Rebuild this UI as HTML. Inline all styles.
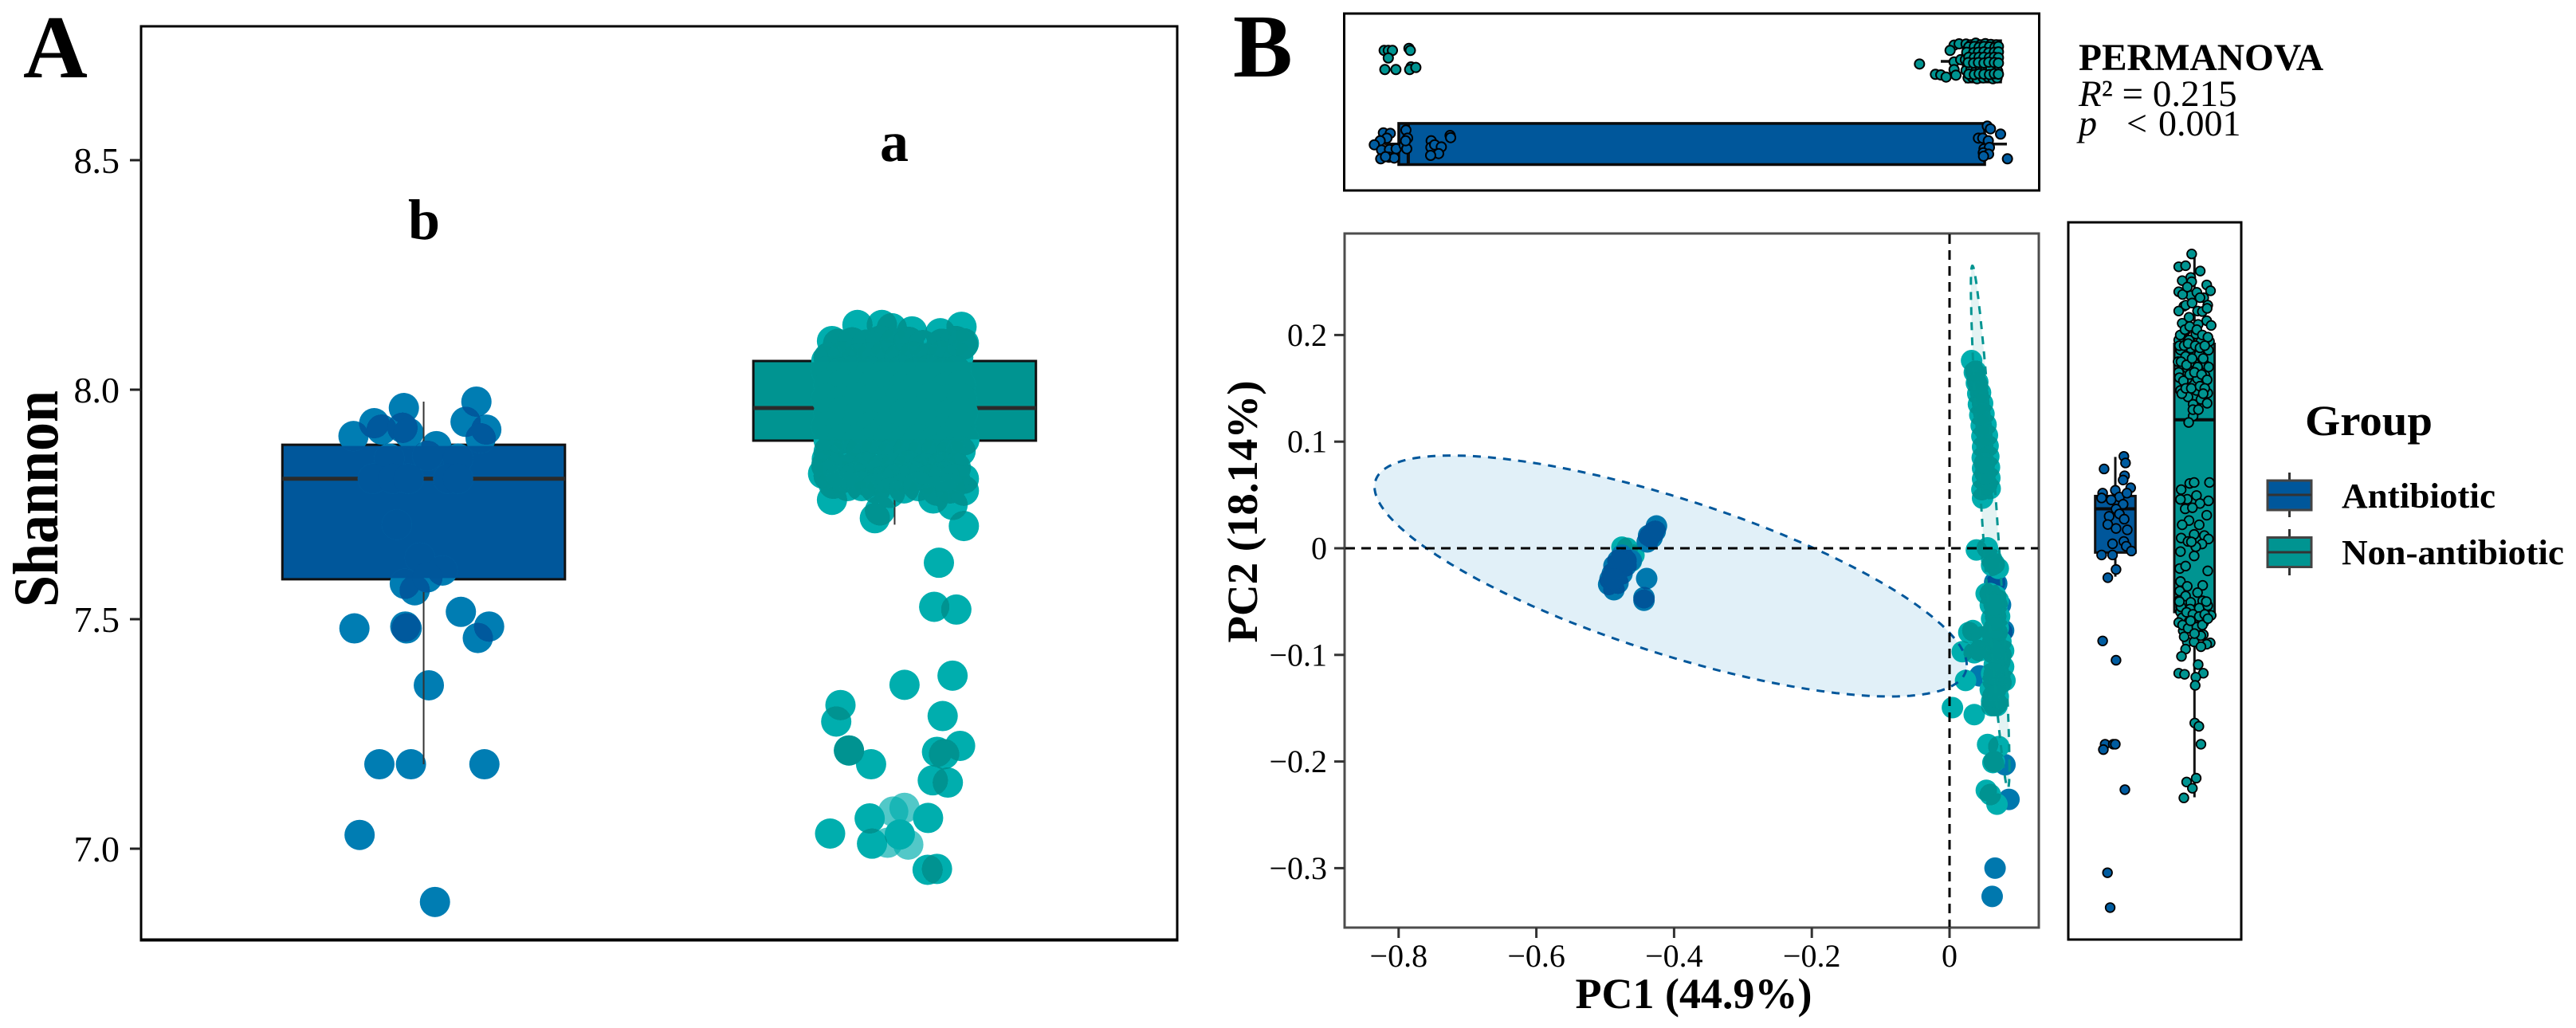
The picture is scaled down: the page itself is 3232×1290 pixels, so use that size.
<!DOCTYPE html>
<html lang="en">
<head>
<meta charset="utf-8">
<title>Shannon diversity and PCoA</title>
<style>
html,body{margin:0;padding:0;background:#fff;width:3232px;height:1290px;overflow:hidden}
svg{display:block;font-family:"Liberation Serif",serif}
text{fill:#000}
</style>
</head>
<body>
<svg id="fig" xmlns="http://www.w3.org/2000/svg" width="3232" height="1290" viewBox="0 0 3232 1290">
<defs>
<filter id="overlap" filterUnits="userSpaceOnUse" x="0" y="0" width="3232" height="1290" color-interpolation-filters="sRGB">
<feComponentTransfer><feFuncA type="linear" slope="30" intercept="-17"/></feComponentTransfer>
</filter>
<clipPath id="clipBoxA1"><rect id="clipRectA1" x="0" y="0" width="0" height="0"/></clipPath>
<clipPath id="clipBoxA2"><rect id="clipRectA2" x="0" y="0" width="0" height="0"/></clipPath>
</defs>
<rect x="0" y="0" width="3232" height="1290" fill="#fff"/>

<text x="29" y="97" font-size="112" font-weight="bold">A</text>
<text x="1547" y="96" font-size="112" font-weight="bold">B</text>

<rect x="177" y="33" width="1300" height="1146" fill="#fff" stroke="#000" stroke-width="3"/>
<line x1="175.5" x2="1478.5" y1="1179.5" y2="1179.5" stroke="#000" stroke-width="4"/>
<g id="panelA"></g>
<text transform="translate(72,626) rotate(-90)" font-size="80" font-weight="bold" text-anchor="middle" textLength="272" lengthAdjust="spacingAndGlyphs">Shannon</text>
<text x="532" y="300" font-size="72" font-weight="bold" text-anchor="middle">b</text>
<text x="1122" y="202" font-size="72" font-weight="bold" text-anchor="middle">a</text>

<rect x="1686.5" y="17" width="872" height="222" fill="#fff" stroke="#000" stroke-width="3"/>
<g id="panelTop"></g>

<rect x="1687" y="293" width="871" height="871" fill="#fff" stroke="#4d4d4d" stroke-width="3"/>
<g id="panelB"></g>
<text x="2125" y="1265" font-size="54" font-weight="bold" text-anchor="middle">PC1 (44.9%)</text>
<text transform="translate(1577,642) rotate(-90)" font-size="54" font-weight="bold" text-anchor="middle" textLength="329" lengthAdjust="spacingAndGlyphs">PC2 (18.14%)</text>

<rect x="2595" y="279" width="217" height="900" fill="#fff" stroke="#000" stroke-width="3"/>
<g id="panelRight"></g>

<text x="2608" y="88" font-size="47.4" font-weight="bold">PERMANOVA</text>
<text x="2608" y="133" font-size="47"><tspan font-style="italic">R</tspan>² = 0.215</text>
<text y="170" font-size="46"><tspan x="2608" font-style="italic">p</tspan><tspan x="2668">&lt;</tspan><tspan x="2708">0.001</tspan></text>

<g>
<text x="2892" y="546" font-size="54" font-weight="bold" textLength="160" lengthAdjust="spacingAndGlyphs">Group</text>
<line x1="2872.5" x2="2872.5" y1="593" y2="649" stroke="#333" stroke-width="3"/>
<rect x="2845" y="603" width="55" height="37" fill="#00579B" stroke="#444" stroke-width="3"/>
<line x1="2845" x2="2900" y1="621" y2="621" stroke="#333" stroke-width="3"/>
<text x="2938" y="637" font-size="44" font-weight="bold" textLength="193" lengthAdjust="spacingAndGlyphs">Antibiotic</text>
<line x1="2872.5" x2="2872.5" y1="664" y2="722" stroke="#333" stroke-width="3"/>
<rect x="2845" y="674.5" width="55" height="37" fill="#009491" stroke="#444" stroke-width="3"/>
<line x1="2845" x2="2900" y1="693" y2="693" stroke="#333" stroke-width="3"/>
<text x="2938" y="708" font-size="44" font-weight="bold" textLength="279" lengthAdjust="spacingAndGlyphs">Non-antibiotic</text>
</g>
</svg>

<script>
// ---------- Panel A data ----------
const shannonTicks = [7.0, 7.5, 8.0, 8.5];
const shannonTickLabels = ["7.0", "7.5", "8.0", "8.5"];
// box stats: [low whisker, q1, median, q3, high whisker]
const shannonBoxAntibiotic = [7.184, 7.587, 7.806, 7.88, 7.974];
const shannonBoxNonAntibiotic = [7.706, 7.889, 7.96, 8.0625, 8.0625];
const shannonJitterAntibiotic = [
 .112,-.042,-.105,.089,.133,-.149,-.089,-.045,-.032,.027,.121,.008,-.073,.073,
 -.108,-.065,-.032,.052,.073,-.057,-.008,.04,-.04,-.019,.008,.079,-.147,-.036,-.039,.139,.115,.011,-.094,-.027,.129,-.136,.024];
const shannonValuesAntibiotic = [
 7.974,7.96,7.927,7.93,7.913,7.899,7.913,7.917,7.906,7.877,7.894,7.856,7.85,7.85,
 7.806,7.806,7.806,7.806,7.806,7.706,7.634,7.606,7.577,7.563,7.591,7.516,7.48,7.48,7.484,7.484,7.459,7.356,7.184,7.184,7.184,7.03,6.884];
const shannonJitterNonAntibiotic = [
 .147,.094,.084,.131,.123,.021,-.115,-.124,.102,.139,.09,.105,-.097,-.097,-.05,.081,.113,-.053,.071,-.137,-.048,.07,.09,.011,
 -.133,-.042,-.031,.082,.123,.147,.147,-.152,-.112,-.055,-.015,.026,.066,.107,-.144,
 -.079,-.027,.142,.097,.037,-.006,-.133,.147,-.145,
 -.12,-.09,-.06,-.03,0,.03,.06,.1,.13,.145,
 -.14,-.11,-.08,-.05,-.02,.01,.04,.07,.1,.135,
 -.145,-.115,-.085,-.05,-.02,.015,.045,.075,.105,.13,
 -.14,-.11,-.08,-.045,-.015,.02,.05,.08,.11,.14,
 -.145,-.112,-.08,-.05,-.018,.012,.045,.078,.11,.142,
 -.14,-.11,-.075,-.045,-.015,.02,.05,.08,.115,.145,
 -.145,-.115,-.08,-.05,-.02,.015,.045,.075,.11,.14,
 -.14,-.11,-.08,-.045,-.012,.02,.05,.085,.115,.148,
 -.14,-.105,-.07,-.04,-.005,.03,.06,.09,.12,.14,
 -.145,-.12,-.09,-.06,-.03,0,.03,.065,.1,.13,
 -.14,-.115,-.085,-.03,.005,.04,.075,.105,.128,
 -.13,-.1,-.07,-.04,-.01,.02,.05,.09,.118];
const shannonValuesNonAntibiotic = [
 7.703,7.623,7.527,7.521,7.377,7.357,7.313,7.277,7.289,7.224,7.211,7.206,7.214,7.214,7.184,7.149,7.144,7.066,7.067,7.033,7.011,6.954,6.956,7.031,
 7.76,7.72,7.737,7.763,7.749,7.78,7.806,7.817,7.813,7.799,7.806,7.806,7.82,7.813,7.849,
 8.141,8.141,8.137,8.123,8.127,8.134,8.106,8.101,8.063,
 8.10,8.103,8.098,8.107,8.101,8.104,8.097,8.1,8.106,8.098,
 8.07,8.073,8.067,8.071,8.075,8.068,8.072,8.069,8.074,8.07,
 8.04,8.037,8.043,8.04,8.036,8.042,8.039,8.044,8.038,8.041,
 8.01,8.013,8.007,8.011,8.014,8.008,8.012,8.009,8.006,8.01,
 7.98,7.977,7.983,7.98,7.976,7.982,7.979,7.984,7.978,7.981,
 7.95,7.953,7.947,7.951,7.954,7.948,7.952,7.949,7.946,7.95,
 7.92,7.917,7.923,7.92,7.916,7.922,7.919,7.924,7.918,7.921,
 7.89,7.893,7.887,7.891,7.894,7.888,7.892,7.889,7.886,7.89,
 7.865,7.862,7.868,7.866,7.861,7.867,7.864,7.869,7.863,7.866,
 7.835,7.828,7.83,7.832,7.826,7.83,7.834,7.828,7.832,7.83,
 7.812,7.806,7.81,7.80,7.807,7.811,7.804,7.81,7.806,
 7.795,7.79,7.79,7.785,7.775,7.785,7.79,7.78,7.785];
const shannonFaintJitter = [.021,-.003,.029,-.015];
const shannonFaintValues = [7.089,7.081,7.009,7.013];

// ---------- Panel B scatter data ----------
const pc1Ticks = [-0.8,-0.6,-0.4,-0.2,0];
const pc1TickLabels = ["\u22120.8","\u22120.6","\u22120.4","\u22120.2","0"];
const pc2Ticks = [0.2,0.1,0,-0.1,-0.2,-0.3];
const pc2TickLabels = ["0.2","0.1","0","\u22120.1","\u22120.2","\u22120.3"];
// ellipse: [centre x, centre y, x radius, y radius, correlation]
const ellipseAntibiotic = [-0.405,-0.026,0.43,0.113,-0.74];
const ellipseNonAntibiotic = [0.059,0.02,0.028,0.245,-0.92];
// antibiotic samples in the left-hand cluster
const pc1AntibioticLeft = [
 -.4256,-.4274,-.435,-.439,-.43,-.432,-.437,-.4398,-.4437,-.4437,
 -.4756,-.4737,-.4699,-.4756,-.4815,-.4897,-.4815,-.493,-.495,-.4873,-.4815,-.4756,-.4699,-.4756,-.4815,-.4873,-.487,-.4623];
const pc2AntibioticLeft = [
 .0209,.0159,.0112,.006,.015,.010,.012,-.0284,-.0463,-.0488,
 -.0065,-.0114,-.0164,-.0164,-.019,-.0239,-.0214,-.0289,-.0339,-.0389,-.0327,-.0114,-.0114,-.0239,-.0114,-.0164,-.0289,-.0114];
// antibiotic samples along the right-hand column
const pc1AntibioticRight = [.0655,.0685,.074,.0785,.076,.0437,.0805,.0863,.0661,.0619];
const pc2AntibioticRight = [-.032,-.033,-.053,-.077,-.079,-.1197,-.203,-.2355,-.3,-.3265];
const pc1NonAntibiotic = [
 -.4757,-.4583,-.468,-.462,
 .032,.036,.038,.039,.041,.041,.045,.042,.048,.044,.050,.046,.053,.047,.055,.048,.056,.0475,.057,.048,.058,.048,.0585,.047,.059,.048,.054,.052,.051,
 .039,.055,.0532,.0339,.028,.0185,.0359,.0233,.0042,.0359,
 .0611,.0611,.065,.0708,.0592,.0669,.0689,.0592,.0669,.0727,.0611,.0689,.063,.0746,.0689,.0785,.063,.0727,.0785,.065,.0727,.0805,.063,.0592,.0669,.0611,.0689,.0611,.065,.0437,.0476,
 .0708,.065,.0746,.0669,.0708,.065,.0746,.0611,.063,.0708,.0689,.0611,.0708,.065,
 .0553,.0716,.063,.065,.0534,.0592,.0689];
const pc2NonAntibiotic = [
 .001,-.0065,.0,-.012,
 .176,.165,.166,.155,.156,.145,.146,.135,.136,.125,.126,.115,.116,.105,.106,.095,.096,.085,.086,.075,.076,.065,.066,.055,.056,.047,.06,.07,.08,
 -.0016,.0004,-.0425,-.0772,-.079,-.097,-.098,-.124,-.1495,-.156,
 -.0103,-.016,-.0146,-.0189,-.0425,-.0446,-.0532,-.0532,-.0639,-.0639,-.0661,-.0789,-.0875,-.0875,-.0961,-.0961,-.0982,-.1068,-.1111,-.109,-.1197,-.124,-.124,-.1326,-.1326,-.1433,-.1454,-.1476,-.1476,-.0961,-.0832,
 -.0747,-.0747,-.1,-.0961,-.1154,-.1176,-.1261,-.1176,-.139,-.139,-.1476,-.0789,-.0489,-.0532,
 -.184,-.186,-.201,-.2,-.227,-.231,-.24];

// ---------- Top marginal data (PC1 by group) ----------
// box stats: [low whisker, q1, median, q3, high whisker]
const pc1BoxAntibiotic = [-.8206,-.7998,-.786,.051,.0833];
const pc1BoxNonAntibiotic = [-.0127,.0243,.05,.0741,.0741];
const topPc1Antibiotic = [
 -.8221,-.8121,-.8171,-.8268,-.8353,-.8248,-.8133,-.8036,-.826,-.8141,-.8064,-.8191,
 -.7894,-.787,-.792,-.7882,-.7899,
 -.7527,-.7531,-.7477,-.738,-.7419,-.7535,-.7253,-.7245,
 .0548,.0594,.0741,.042,.0482,.0563,.0501,.0579,.049,.0567,.0494,.0841];
const topJitterAntibiotic = [
 -.135,-.129,-.071,-.039,.0096,.073,.067,.058,.179,.16,.17,.154,
 -.168,-.071,.0154,.058,-.039,
 -.039,.041,.0096,.035,.116,.138,-.103,-.077,
 -.216,-.183,-.12,-.071,-.071,-.039,.058,.041,.106,.122,.148,.179];
const topPc1NonAntibiotic = [
 -.821,-.815,-.809,-.815,-.785,-.783,-.82,-.804,-.782,-.784,-.775,
 -.0436,-.0205,-.0127,-.005,.0066,.0008,.0066,.0066,.0093,.0162,.0139,
 .024,.031,.038,.045,.052,.06,.068,
 .026,.033,.04,.047,.055,.063,.07,
 .025,.03,.037,.044,.051,.059,.067,
 .023,.032,.039,.046,.053,.061,.069,
 .026,.034,.041,.048,.054,.062,.068,
 .024,.031,.038,.045,.052,.06,.07,
 .027,.033,.04,.049,.056,.063,.069,
 .028,.036,.043,.05,.058,.066,.071,
 .025,.035,.042,.05,.057,.065,.071,
 .028,.036,.043,.05,.058,.065,.071,
 .027,.035,.042,.05,.057,.065,.071,
 .028,.036,.043,.05,.058,.065,.071];
const topJitterNonAntibiotic = [
 -.132,-.132,-.132,-.041,-.157,-.132,.099,.099,.068,.099,.074,
 .032,.157,.164,.19,-.196,-.132,.007,.1,.167,-.02,-.212,
 -.21,-.2,-.22,-.2,-.215,-.205,-.2,
 -.14,-.15,-.13,-.14,-.15,-.13,-.15,
 -.08,-.07,-.09,-.08,-.06,-.09,-.07,
 -.02,-.01,-.03,0,-.02,-.01,-.03,
 .05,.04,.03,.05,.04,.03,.06,
 .11,.1,.12,.1,.11,.09,.12,
 .2,.19,.21,.2,.19,.21,.2,
 -.175,-.18,-.17,-.18,-.175,-.17,-.18,
 -.11,-.105,-.11,-.115,-.105,-.11,-.115,
 -.05,-.045,-.05,-.05,-.045,-.05,-.045,
 .015,.02,.015,.02,.01,.015,.02,
 .155,.16,.15,.155,.16,.15,.155];

// ---------- Right marginal data (PC2 by group) ----------
const pc2BoxAntibiotic = [-.0266,-.004,.037,.049,.0857];
const pc2BoxNonAntibiotic = [-.2336,-.0598,.1205,.1917,.276];
const rightJitterAntibiotic = [
 .108,.129,-.142,.117,.099,.194,0,-.16,-.173,.052,.147,-.052,.099,.009,-.078,.052,.112,-.095,.009,.151,-.035,.108,.138,.203,-.173,-.035,.009,-.095,-.16,.009,-.129,-.026,0,-.151,.121,-.099,-.065];
const rightPc2Antibiotic = [
 .0862,.08,.0744,.068,.064,.0567,.0544,.0517,.0472,.0481,.0517,.0454,.0413,.0368,.03,.0322,.0273,.0223,.0186,.0173,.0042,.0064,.0019,-.0026,-.0063,-.0063,-.0199,-.0276,-.0869,-.105,-.1838,-.1838,-.1838,-.1888,-.2264,-.3043,-.337];
const rightJitterNonAntibiotic = [
 -.035,-.199,-.112,.073,-.155,-.047,.155,.203,-.035,-.199,-.047,.117,.168,-.134,-.199,.039,-.069,-.155,.047,.155,.211,-.112,.017,-.199,-.069,.082,.19,-.177,-.047,.06,.177,-.112,-.207,-.004,.125,-.091,-.199,.039,.134,-.091,-.177,.026,.168,-.082,.082,-.017,.16,-.017,-.073,
 -.06,-.004,.19,-.168,-.091,.026,.177,-.177,.069,-.117,-.026,.155,-.069,.06,-.155,.125,-.168,-.004,.177,-.082,.095,.017,-.039,-.177,-.004,-.186,-.112,.168,-.177,.104,-.091,-.186,-.112,.039,-.199,-.047,.104,-.177,-.056,.06,.168,.211,.017,-.155,-.069,.117,-.199,.004,-.142,.112,-.091,-.004,.199,.155,.082,-.112,-.164,.047,-.199,-.125,.112,.017,.009,.004,.056,.082,.022,-.099,-.026,-.134,
 -.18,-.12,-.06,.03,.1,.17,-.19,-.13,-.08,.01,.07,.13,-.17,-.1,-.03,.04,.11,.18,-.19,-.14,-.06,0,.09,.16,-.16,-.11,-.04,.07,.13,-.02,.05,.11,-.15,-.09,.03,.1,.16,-.11,.07,-.03,
 -.17,-.1,-.02,.06,.13,-.15,-.08,.03,.1,.17,-.13,.08,-.05,0,-.19,.15];
const rightPc2NonAntibiotic = [
 .276,.264,.265,.26,.251,.254,.247,.2415,.25,.2406,.237,.235,.228,.227,.2225,.2225,.2166,.211,.21,.2134,.209,.204,.201,.1953,.1953,.194,.194,.186,.1876,.182,.1858,.18,.175,.174,.1727,.169,.165,.159,.162,.159,.148,.148,.1455,.142,.1396,.135,.136,.124,.118,
 .0608,.0617,.0617,.055,.046,.0495,.0445,.0458,.042,.037,.038,.031,.026,.022,.022,.0119,.0096,.013,.0087,.0064,.004,.0014,.006,-.0031,-.0072,-.019,-.0167,-.0212,-.0312,-.0348,-.0357,-.0402,-.0448,-.0416,-.0493,-.0507,-.0493,-.0597,-.057,-.0561,-.0538,-.0629,-.0652,-.0652,-.0688,-.0697,-.0697,-.0733,-.0774,-.081,-.0878,-.0878,-.0887,-.09,-.0923,-.0946,-.1014,-.1091,-.1172,-.1182,-.1172,-.1209,-.1286,-.1639,-.167,-.1838,-.2156,-.2192,-.2251,-.2341,
 .2,.205,.208,.205,.2,.198,.19,.19,.192,.19,.188,.19,.175,.172,.178,.17,.178,.17,.16,.157,.163,.165,.163,.158,.145,.15,.15,.152,.15,.13,.13,.145,.238,.245,.24,.222,.225,.228,.235,.23,
 -.055,-.06,-.062,-.064,-.062,-.072,-.075,-.074,-.072,-.066,-.083,-.082,-.068,-.08,-.05,-.05];

// ---------- Axis functions ----------
const NS = "http://www.w3.org/2000/svg";
const catA = c => 177 + (c - 0.4) / 2.2 * 1300;
const yA = v => 1065 - (v - 7) * 576;
const xB = v => 2446 + 864 * v;
const yB = v => 688 - 1338 * v;
const catTop = c => 77 + (c - 1) * 103.7;   // 1 = Non-antibiotic, 2 = Antibiotic
const catRight = c => 2654 + (c - 1) * 99.3; // 1 = Antibiotic, 2 = Non-antibiotic

const BLUE = "#00579B", TEAL = "#009491", BLUE_LIGHT = "#007DB3", TEAL_LIGHT = "#00AEAE";

function make(tag, parent, attrs) {
  const el = document.createElementNS(NS, tag);
  for (const k in attrs) el.setAttribute(k, attrs[k]);
  parent.appendChild(el);
  return el;
}

function group(parent, filter, clip) {
  const g = document.createElementNS(NS, "g");
  if (filter) g.setAttribute("filter", "url(#overlap)");
  if (clip) g.setAttribute("clip-path", "url(#" + clip + ")");
  parent.appendChild(g);
  return g;
}

// ---------- Panel A ----------
const panelA = document.getElementById("panelA");

shannonTicks.forEach((t, i) => {
  const tick = make("line", panelA, {x1: 163, x2: 177, y1: yA(t), y2: yA(t), stroke: "#222", "stroke-width": 3});
  
  
  const label = make("text", panelA, {x: 150, y: yA(t) + 16, "font-size": 46, "text-anchor": "end"});
  
  
  label.textContent = shannonTickLabels[i];
});

function shannonBox(stats, cat, fill, clipRectId) {
  const x0 = catA(cat - 0.3), x1 = catA(cat + 0.3);
  const rect = make("rect", panelA, {x: x0, y: yA(stats[3]), width: x1 - x0, height: yA(stats[1]) - yA(stats[3]), fill: fill, stroke: "#111", "stroke-width": 3});
  
  
  const med = make("line", panelA, {x1: x0, x2: x1, y1: yA(stats[2]), y2: yA(stats[2]), stroke: "#2b2b2b", "stroke-width": 5});
  
  
  const cr = document.getElementById(clipRectId);
  cr.setAttribute("x", x0 + 1.5);
  cr.setAttribute("y", yA(stats[3]) + 1.5);
  cr.setAttribute("width", x1 - x0 - 3);
  cr.setAttribute("height", yA(stats[1]) - yA(stats[3]) - 3);
}
shannonBox(shannonBoxAntibiotic, 1, BLUE, "clipRectA1");
shannonBox(shannonBoxNonAntibiotic, 2, TEAL, "clipRectA2");

const aLight = group(panelA);
const aWhisk = group(panelA);
const aDarkT = group(panelA, true);
const aDarkB = group(panelA, true);
const aClipB = group(panelA, false, "clipBoxA1");
const aClipT = group(panelA, false, "clipBoxA2");

shannonJitterNonAntibiotic.forEach((j, i) => {
  const cx = catA(2 + j), cy = yA(shannonValuesNonAntibiotic[i]);
  const a = make("circle", aLight, {cx: cx, cy: cy, r: 19, fill: TEAL_LIGHT});
  
  
  const b = make("circle", aDarkT, {cx: cx, cy: cy, r: 19, fill: TEAL, "fill-opacity": .5});
  
  
  const c = make("circle", aClipT, {cx: cx, cy: cy, r: 19, fill: TEAL});
  
  
});
shannonFaintJitter.forEach((j, i) => {
  const a = make("circle", aLight, {cx: catA(2 + j), cy: yA(shannonFaintValues[i]), r: 19, fill: TEAL_LIGHT, "fill-opacity": .68});
  
  
});
shannonJitterAntibiotic.forEach((j, i) => {
  const cx = catA(1 + j), cy = yA(shannonValuesAntibiotic[i]);
  const a = make("circle", aLight, {cx: cx, cy: cy, r: 19, fill: BLUE_LIGHT});
  
  
  const b = make("circle", aDarkB, {cx: cx, cy: cy, r: 19, fill: "#005A9E", "fill-opacity": .5});
  
  
  const c = make("circle", aClipB, {cx: cx, cy: cy, r: 19, fill: BLUE});
  
  
});

function shannonWhisker(stats, cat) {
  const top = make("line", aWhisk, {x1: catA(cat), x2: catA(cat), y1: yA(stats[4]), y2: yA(stats[3]), stroke: "#333", "stroke-width": 2});
  
  
  const bottom = make("line", aWhisk, {x1: catA(cat), x2: catA(cat), y1: yA(stats[1]), y2: yA(stats[0]), stroke: "#333", "stroke-width": 2});
  
  
}
shannonWhisker(shannonBoxAntibiotic, 1);
shannonWhisker(shannonBoxNonAntibiotic, 2);

// ---------- PCoA scatter ----------
const panelB = document.getElementById("panelB");

pc1Ticks.forEach((t, i) => {
  const tick = make("line", panelB, {x1: xB(t), x2: xB(t), y1: 1164, y2: 1177, stroke: "#333", "stroke-width": 3});
  
  
  const label = make("text", panelB, {x: xB(t), y: 1213, "font-size": 40, "text-anchor": "middle"});
  
  
  label.textContent = pc1TickLabels[i];
});
pc2Ticks.forEach((t, i) => {
  const tick = make("line", panelB, {x1: 1674, x2: 1687, y1: yB(t), y2: yB(t), stroke: "#333", "stroke-width": 3});
  
  
  const label = make("text", panelB, {x: 1665, y: yB(t) + 13.5, "font-size": 40, "text-anchor": "end"});
  
  
  label.textContent = pc2TickLabels[i];
});

function ellipsePath(e) {
  const s = Math.sqrt(1 - e[4] * e[4]);
  let d = "";
  for (let k = 0; k <= 180; k++) {
    const t = k / 180 * 2 * Math.PI;
    const x = e[0] + e[2] * Math.cos(t);
    const y = e[1] + e[3] * (e[4] * Math.cos(t) + s * Math.sin(t));
    d += (k ? "L" : "M") + xB(x).toFixed(1) + " " + yB(y).toFixed(1);
  }
  return d + "Z";
}
const blueFill = make("path", panelB, {d: ellipsePath(ellipseAntibiotic), fill: "#0080C0", "fill-opacity": .118});


const tealFill = make("path", panelB, {d: ellipsePath(ellipseNonAntibiotic), fill: "#009491", "fill-opacity": .11});



const bLightBR = group(panelB), bDarkBR = group(panelB, true);
const bLightT = group(panelB), bDarkT = group(panelB, true);
const bLightBL = group(panelB), bDarkBL = group(panelB, true);

pc1AntibioticRight.forEach((v, i) => {
  const a = make("circle", bLightBR, {cx: xB(v), cy: yB(pc2AntibioticRight[i]), r: 13.5, fill: "#0078AE"});
  
  
  const b = make("circle", bDarkBR, {cx: xB(v), cy: yB(pc2AntibioticRight[i]), r: 13.5, fill: "#00569A", "fill-opacity": .5});
  
  
});
pc1NonAntibiotic.forEach((v, i) => {
  const a = make("circle", bLightT, {cx: xB(v), cy: yB(pc2NonAntibiotic[i]), r: 13.5, fill: TEAL_LIGHT});
  
  
  const b = make("circle", bDarkT, {cx: xB(v), cy: yB(pc2NonAntibiotic[i]), r: 13.5, fill: TEAL, "fill-opacity": .5});
  
  
});
pc1AntibioticLeft.forEach((v, i) => {
  const a = make("circle", bLightBL, {cx: xB(v), cy: yB(pc2AntibioticLeft[i]), r: 13.5, fill: "#0078AE"});
  
  
  const b = make("circle", bDarkBL, {cx: xB(v), cy: yB(pc2AntibioticLeft[i]), r: 13.5, fill: "#00569A", "fill-opacity": .5});
  
  
});

const blueStroke = make("path", panelB, {d: ellipsePath(ellipseAntibiotic), fill: "none", stroke: BLUE, "stroke-width": 3, "stroke-dasharray": "10 9"});


const tealStroke = make("path", panelB, {d: ellipsePath(ellipseNonAntibiotic), fill: "none", stroke: TEAL, "stroke-width": 3, "stroke-dasharray": "10 9"});



const hZero = make("line", panelB, {x1: 1688, x2: 2557, y1: yB(0), y2: yB(0), stroke: "#000", "stroke-width": 3, "stroke-dasharray": "12 8"});


const vZero = make("line", panelB, {x1: xB(0), x2: xB(0), y1: 294, y2: 1163, stroke: "#000", "stroke-width": 3, "stroke-dasharray": "12 8"});



// ---------- Top marginal ----------
const panelTop = document.getElementById("panelTop");

function topBox(stats, cat, fill) {
  const yc = catTop(cat), h = 25.8;
  const wl = make("line", panelTop, {x1: xB(stats[0]), x2: xB(stats[4]), y1: yc, y2: yc, stroke: "#111", "stroke-width": 3.5});
  
  
  const r = make("rect", panelTop, {x: xB(stats[1]), y: yc - h, width: xB(stats[3]) - xB(stats[1]), height: 2 * h, fill: fill, stroke: "#0a0a0a", "stroke-width": 3.5});
  
  
  const m = make("line", panelTop, {x1: xB(stats[2]), x2: xB(stats[2]), y1: yc - h, y2: yc + h, stroke: "#0a0a0a", "stroke-width": 4});
  
  
}
topBox(pc1BoxNonAntibiotic, 1, TEAL);
topBox(pc1BoxAntibiotic, 2, BLUE);

topPc1NonAntibiotic.forEach((v, i) => {
  const c = make("circle", panelTop, {cx: xB(v), cy: catTop(1 + topJitterNonAntibiotic[i]), r: 6, fill: TEAL, stroke: "#000", "stroke-width": 2});
  
  
});
topPc1Antibiotic.forEach((v, i) => {
  const c = make("circle", panelTop, {cx: xB(v), cy: catTop(2 + topJitterAntibiotic[i]), r: 6, fill: "#005CA0", stroke: "#000", "stroke-width": 2});
  
  
});

// ---------- Right marginal ----------
const panelRight = document.getElementById("panelRight");

function rightBox(stats, cat, fill) {
  const xc = catRight(cat), w = 25.3;
  const wl = make("line", panelRight, {x1: xc, x2: xc, y1: yB(stats[4]), y2: yB(stats[0]), stroke: "#111", "stroke-width": 3});
  
  
  const r = make("rect", panelRight, {x: xc - w, y: yB(stats[3]), width: 2 * w, height: yB(stats[1]) - yB(stats[3]), fill: fill, stroke: "#111", "stroke-width": 3});
  
  
  const m = make("line", panelRight, {x1: xc - w, x2: xc + w, y1: yB(stats[2]), y2: yB(stats[2]), stroke: "#0a0a0a", "stroke-width": 4});
  
  
}
rightBox(pc2BoxAntibiotic, 1, BLUE);
rightBox(pc2BoxNonAntibiotic, 2, TEAL);

rightJitterAntibiotic.forEach((j, i) => {
  const c = make("circle", panelRight, {cx: catRight(1 + j), cy: yB(rightPc2Antibiotic[i]), r: 5.8, fill: "#005CA0", stroke: "#000", "stroke-width": 1.8});
  
  
});
rightJitterNonAntibiotic.forEach((j, i) => {
  const c = make("circle", panelRight, {cx: catRight(2 + j), cy: yB(rightPc2NonAntibiotic[i]), r: 5.8, fill: TEAL, stroke: "#000", "stroke-width": 1.8});
  
  
});
</script>
</body>
</html>
